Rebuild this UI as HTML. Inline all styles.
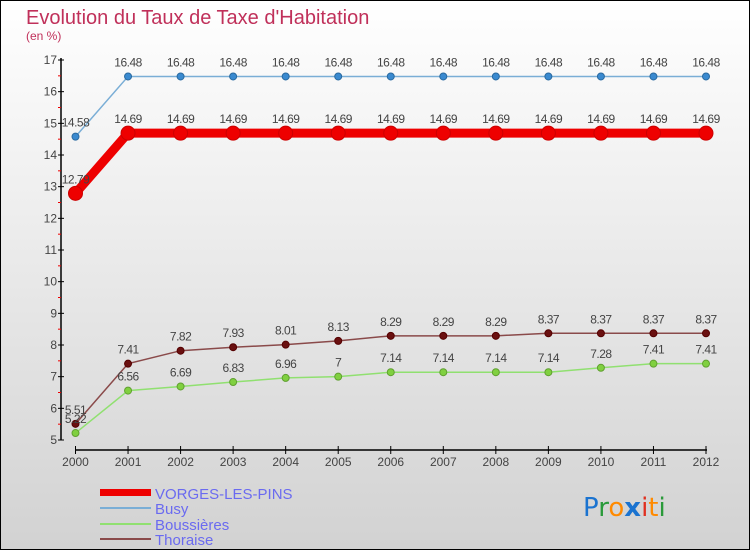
<!DOCTYPE html>
<html><head><meta charset="utf-8"><style>
body{margin:0;}
svg{display:block;font-family:"Liberation Sans",sans-serif;}
</style></head><body>
<svg id="chart" width="750" height="550" viewBox="0 0 750 550">
<defs><linearGradient id="bg" x1="0" y1="0" x2="0" y2="1"><stop offset="0" stop-color="#ffffff"/><stop offset="1" stop-color="#d2d2d2"/></linearGradient></defs>
<rect x="0.5" y="0.5" width="749" height="549" fill="url(#bg)" stroke="#000"/>
<text x="26" y="24" font-size="20" fill="#c0305a">Evolution du Taux de Taxe d'Habitation</text>
<text x="26" y="40" font-size="12" fill="#c0305a">(en %)</text>
<g id="axes"></g>
<g id="series"></g>
<g>
<rect x="100" y="489" width="51" height="7" fill="#e00"/>
<text x="155" y="499" font-size="15" fill="#6a6af0">VORGES-LES-PINS</text>
<rect x="100" y="507" width="51" height="2" fill="#7aaed6"/>
<text x="155" y="514" font-size="15" fill="#6a6af0">Busy</text>
<rect x="100" y="523" width="51" height="2" fill="#90e070"/>
<text x="155" y="530" font-size="15" fill="#6a6af0">Boussières</text>
<rect x="100" y="538" width="51" height="2" fill="#8a4a4a"/>
<text x="155" y="545" font-size="15" fill="#6a6af0">Thoraise</text>
</g>
<g font-size="26" font-family="'DejaVu Sans',sans-serif">
<text x="583" y="516"><tspan fill="#1a73d0">P</tspan><tspan fill="#2a9a3a">r</tspan><tspan fill="#ff8a00">o</tspan><tspan fill="#1a73d0" font-weight="bold">x</tspan><tspan fill="#e03020">i</tspan><tspan fill="#ff8a00">t</tspan><tspan fill="#2a9a3a">i</tspan></text>
</g>
</svg>
<script>
const years = [2000,2001,2002,2003,2004,2005,2006,2007,2008,2009,2010,2011,2012];
const vorges = [12.79,14.69,14.69,14.69,14.69,14.69,14.69,14.69,14.69,14.69,14.69,14.69,14.69];
const busy = [14.58,16.48,16.48,16.48,16.48,16.48,16.48,16.48,16.48,16.48,16.48,16.48,16.48];
const boussieres = [5.22,6.56,6.69,6.83,6.96,7,7.14,7.14,7.14,7.14,7.28,7.41,7.41];
const thoraise = [5.51,7.41,7.82,7.93,8.01,8.13,8.29,8.29,8.29,8.37,8.37,8.37,8.37];
const yTicks = [5,6,7,8,9,10,11,12,13,14,15,16,17];

const NS="http://www.w3.org/2000/svg";
function xS(i){return 75.5+i*(706-75.5)/(years.length-1);}
function yS(v){return 440-(v-5)*(380/12);}
function mk(tag,attrs,parent){const e=document.createElementNS(NS,tag);for(const k in attrs)e.setAttribute(k,attrs[k]);parent.appendChild(e);return e;}
const axes=document.getElementById('axes');
const yAxis=mk('line',{x1:61,y1:58,x2:61,y2:440,stroke:'#000','stroke-width':1.5},axes);


yTicks.forEach(v=>{
  mk('line',{x1:58,y1:yS(v),x2:64,y2:yS(v),stroke:'#000'},axes);
  if(v<17) mk('line',{x1:58,y1:yS(v+0.5),x2:61,y2:yS(v+0.5),stroke:'#e00'},axes);
  const t=mk('text',{x:57,y:yS(v)+4,'font-size':12,'text-anchor':'end',fill:'#444'},axes);
  t.textContent=v;
  
  
});
const xAxis=mk('line',{x1:75,y1:450,x2:707,y2:450,stroke:'#000','stroke-width':1.5},axes);


years.forEach((y,i)=>{
  mk('line',{x1:xS(i),y1:446,x2:xS(i),y2:454,stroke:'#000'},axes);
  const t=mk('text',{x:xS(i),y:466,'font-size':12,'text-anchor':'middle',fill:'#444'},axes);
  t.textContent=y;
  
  
});
const sg=document.getElementById('series');
function draw(vals,name,color,lw,r,fill,stroke,labelColor){
  const g=mk('g',{},sg);
  
  
  const p=mk('polyline',{points:vals.map((v,i)=>xS(i)+','+yS(v)).join(' '),fill:'none',stroke:color,'stroke-width':lw},g);
  
  
  vals.forEach((v,i)=>{
    const c=mk('circle',{cx:xS(i),cy:yS(v),r:r,fill:fill,stroke:stroke,'stroke-width':1},g);
    
    
    const t=mk('text',{x:xS(i),y:yS(v)-10,'font-size':12,'text-anchor':'middle',fill:'#444','letter-spacing':'-0.5'},g);
    t.textContent=v;
    
    
  });
}
draw(busy,'busy','#7aaed6',1.5,3.5,'#3a8ad0','#2a6aa0');
draw(vorges,'vorges','#e00',9,7,'#e00','#c00');
draw(thoraise,'thoraise','#8a4a4a',1.5,3.5,'#6a1010','#500');
draw(boussieres,'boussieres','#90e070',1.5,3.5,'#80d040','#60a030');
</script>
</body></html>
